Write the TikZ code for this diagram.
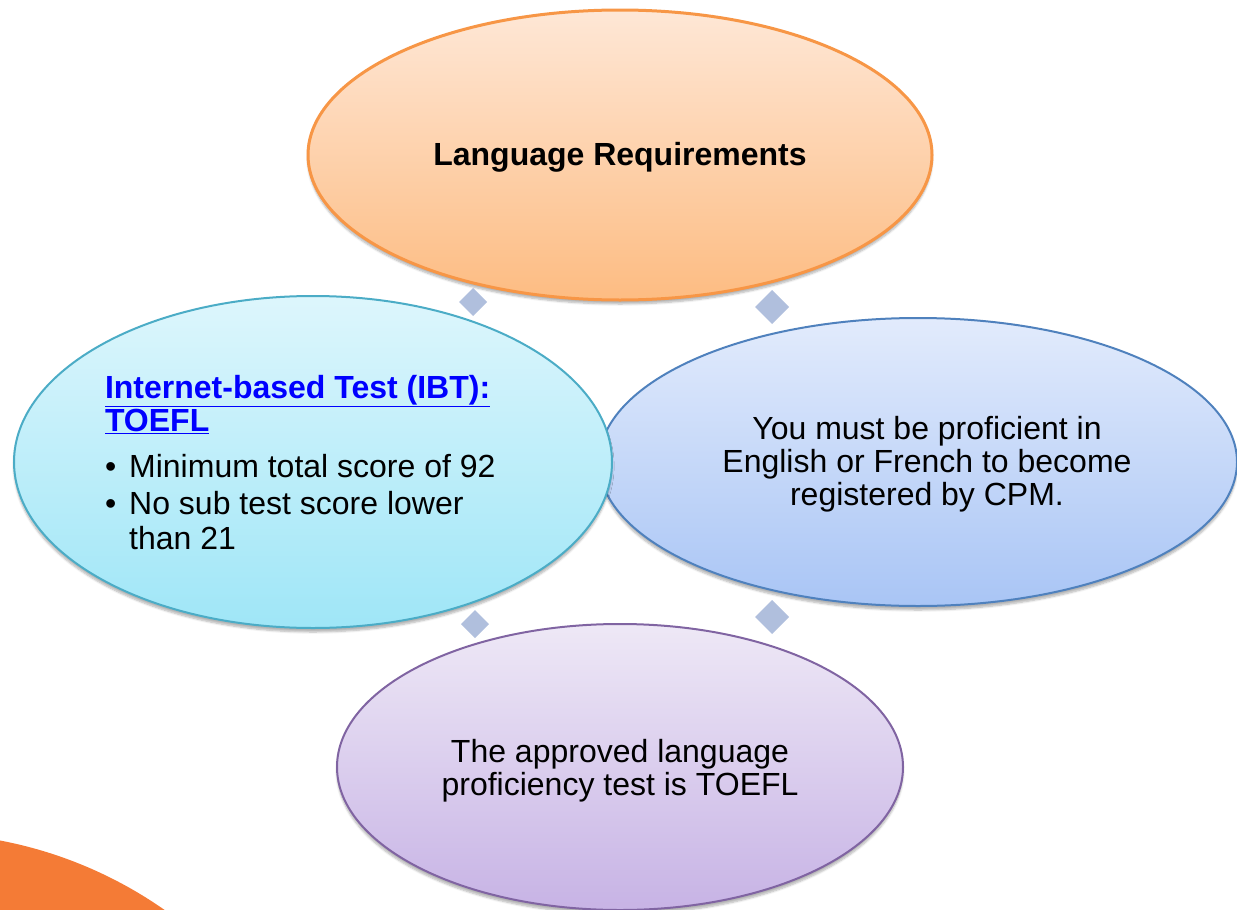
\documentclass[tikz,border=0pt]{standalone}
\usepackage{fontspec}
\setmainfont{Liberation Sans}
\usetikzlibrary{shapes.geometric,shadows.blur}
\definecolor{reqline}{HTML}{F79646}
\definecolor{reqtop}{HTML}{FEE7D6}
\definecolor{reqbot}{HTML}{FDBC82}
\definecolor{ibtline}{HTML}{4BACC6}
\definecolor{ibttop}{HTML}{DDF6FC}
\definecolor{ibtbot}{HTML}{9FE6F7}
\definecolor{langline}{HTML}{4F81BD}
\definecolor{langtop}{HTML}{E2EBFC}
\definecolor{langbot}{HTML}{A9C5F5}
\definecolor{testline}{HTML}{8064A2}
\definecolor{testtop}{HTML}{EEE8F6}
\definecolor{testbot}{HTML}{C7B3E5}
\definecolor{gemblue}{HTML}{B0BFDD}
\definecolor{linkblue}{HTML}{0000FF}
\definecolor{cornerorange}{HTML}{F47B36}

\begin{document}
\begin{tikzpicture}[x=1pt,y=-1pt,inner sep=0pt,outer sep=0pt,
bubble/.style={draw,ellipse,line width=2pt,
  blur shadow={shadow xshift=0pt,shadow yshift=-4pt,shadow blur steps=6,shadow opacity=30}},
words/.style={align=center,font=\fontsize{32}{33}\selectfont},
gem/.style={diamond,fill=gemblue,minimum width=#1,minimum height=#1}]
\useasboundingbox (0,0) rectangle (1237,910);
\fill[cornerorange] (-80,1260) circle (427pt);
\draw (620,155) node[bubble,draw=reqline,line width=3pt,top color=reqtop,bottom color=reqbot,minimum width=624pt,minimum height=290pt] (req) {};
\draw (620,157) node[words] (reqtext) {\bfseries Language Requirements};
\draw (918,462) node[bubble,draw=langline,top color=langtop,bottom color=langbot,minimum width=638pt,minimum height=288pt] (lang) {};
\draw (927,464) node[words] (langtext) {You must be proficient in\\English or French to become\\registered by CPM.};
\draw (313,462) node[bubble,draw=ibtline,top color=ibttop,bottom color=ibtbot,minimum width=598pt,minimum height=332pt] (ibt) {};
\draw (105,398) node[words,anchor=base west,align=left] (ibttext) {%
\begin{tabular}[t]{@{}l@{\hspace{13pt}}l@{}}
\multicolumn{2}{@{}l@{}}{\color{linkblue}\bfseries\underline{Internet-based Test (IBT):}}\\
\multicolumn{2}{@{}l@{}}{\color{linkblue}\bfseries\underline{TOEFL}}\\[13pt]
\textbullet & Minimum total score of 92\\[4pt]
\textbullet & No sub test score lower\\[2pt]
 & than 21
\end{tabular}};
\draw (620,767) node[bubble,draw=testline,top color=testtop,bottom color=testbot,minimum width=566pt,minimum height=286pt] (test) {};
\draw (620,771) node[words] (testtext) {The approved language\\proficiency test is TOEFL};
\draw (473,302) node[gem=28pt] (gem1) {};
\draw (772,307) node[gem=34pt] (gem2) {};
\draw (475,624) node[gem=28pt] (gem3) {};
\draw (772,617) node[gem=34pt] (gem4) {};
\end{tikzpicture}
\end{document}
